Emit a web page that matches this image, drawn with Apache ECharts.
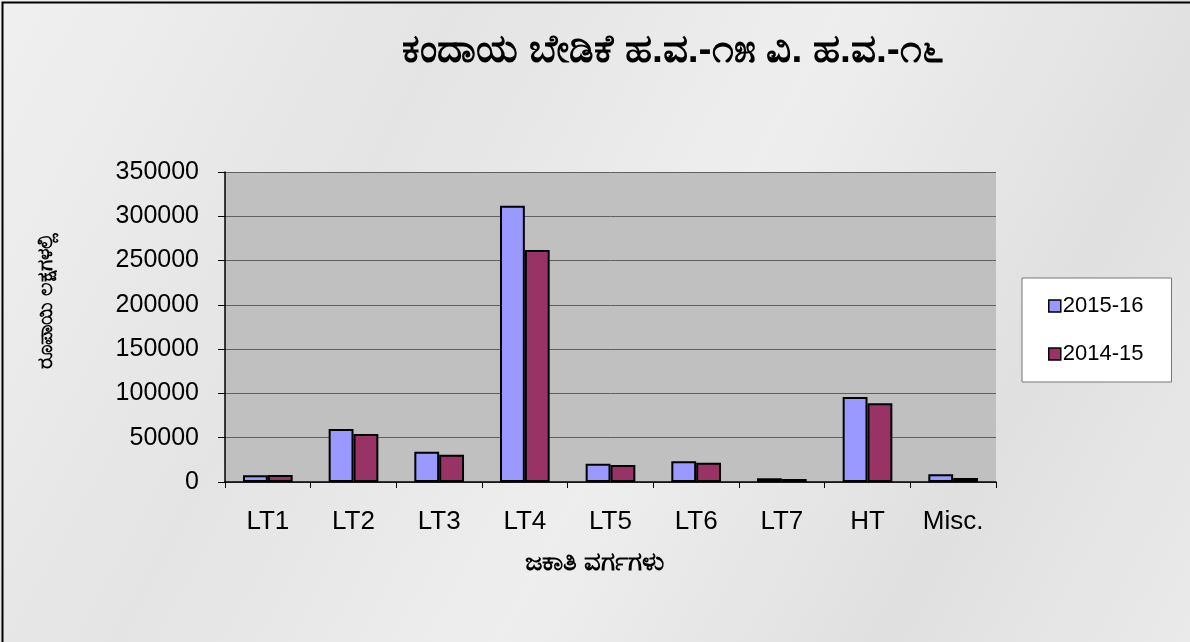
<!DOCTYPE html>
<html>
<head>
    <meta charset="utf-8">
    <title></title>
    <script src="https://cdn.jsdelivr.net/npm/echarts@6/dist/echarts.min.js"></script>
    <style>
        html, body { margin: 0; padding: 0; }
        #main { width: 1190px; height: 642px; }
    </style>
</head>
<body>
    <div id="main"></div>
    <script>
    var categories = ["LT1", "LT2", "LT3", "LT4", "LT5", "LT6", "LT7", "HT", "Misc."];
    var seriesNames = ["2015-16", "2014-15"];
    var values2015 = [7600, 59800, 34100, 312000, 20500, 23500, 4200, 96000, 8700];
    var values2014 = [8000, 54200, 30700, 262000, 19300, 21600, 3400, 89000, 4500];
    var yTicks = [0, 50000, 100000, 150000, 200000, 250000, 300000, 350000];

    var chart = echarts.init(document.getElementById("main"));
    var font = "Liberation Sans, Arial, sans-serif";

    var option = {
        backgroundColor: {
            type: "linear", x: 0, y: 0, x2: 1, y2: 1,
            colorStops: [
                { offset: 0, color: "#f0f0f0" },
                { offset: 0.3, color: "#e4e4e4" },
                { offset: 0.55, color: "#eeeeee" },
                { offset: 0.8, color: "#e0e0e0" },
                { offset: 1, color: "#eaeaea" }
            ]
        },
        animation: false,
        graphic: [{
            type: "rect", left: 0, top: 0,
            shape: { width: 1189, height: 641 },
            style: { fill: "none", stroke: "#000", lineWidth: 2 }
        }],
        title: {
            text: "ಕಂದಾಯ ಬೇಡಿಕೆ ಹ.ವ.-೧೫ ವಿ. ಹ.ವ.-೧೬",
            left: 668, top: 27, textAlign: "center",
            textStyle: { fontSize: 39, fontWeight: "bold", color: "#000", fontFamily: font }
        },
        legend: {
            orient: "vertical",
            left: 1022, top: 278,
            itemWidth: 12, itemHeight: 12, itemGap: 26,
            padding: [17, 28, 17, 26],
            backgroundColor: "#fff",
            borderColor: "#777", borderWidth: 1, borderRadius: 0,
            icon: "rect",
            itemStyle: { borderColor: "#000", borderWidth: 1.5 },
            textStyle: { fontSize: 22, color: "#000", fontFamily: font, padding: [0, 0, 0, -3] },
            data: seriesNames
        },
        grid: { left: 225, right: 194, top: 172, bottom: 160, show: true, backgroundColor: "#c0c0c0", borderWidth: 0 },
        xAxis: {
            type: "category",
            data: categories,
            name: "ಜಕಾತಿ ವರ್ಗಗಳು",
            nameLocation: "middle", nameGap: 68,
            nameTextStyle: { fontSize: 26, fontWeight: "bold", color: "#000", fontFamily: font, padding: [0, 32, 0, 0] },
            axisLine: { lineStyle: { color: "#000", width: 1.5 } },
            axisTick: { show: true, length: 6, lineStyle: { color: "#000" } },
            axisLabel: { fontSize: 26, color: "#000", margin: 27, fontFamily: font }
        },
        yAxis: {
            type: "value",
            min: 0, max: 350000, interval: 50000,
            name: "ರೂಪಾಯಿ ಲಕ್ಷಗಳಲ್ಲಿ",
            nameLocation: "middle", nameGap: 168, nameRotate: 90,
            nameTextStyle: { fontSize: 21, fontWeight: "bold", color: "#000", fontFamily: font, padding: [0, 0, 0, 52] },
            axisLine: { show: true, lineStyle: { color: "#000", width: 1.5 } },
            axisTick: { show: true, length: 7, lineStyle: { color: "#000" } },
            axisLabel: {
                fontSize: 25, color: "#000", margin: 26, fontFamily: font,
                formatter: function (v) { return yTicks.indexOf(v) >= 0 ? String(v) : ""; }
            },
            splitLine: { lineStyle: { color: "#606060", width: 1 } }
        },
        series: [{
            name: seriesNames[0], type: "bar", data: values2015,
            barGap: "0%", barCategoryGap: "42%",
            itemStyle: { color: "#9999ff", borderColor: "#000", borderWidth: 2 }
        }, {
            name: seriesNames[1], type: "bar", data: values2014,
            itemStyle: { color: "#993366", borderColor: "#000", borderWidth: 2 }
        }]
    };
    chart.setOption(option);
    </script>
</body>
</html>
